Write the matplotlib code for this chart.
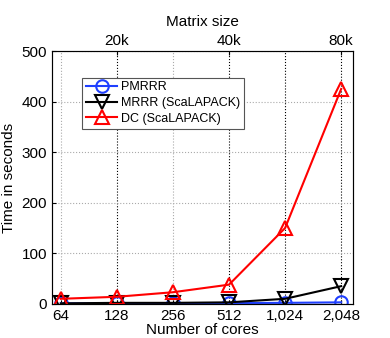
import numpy as np
import matplotlib
matplotlib.use('Agg')
import matplotlib.pyplot as plt

cores = ['64', '128', '256', '512', '1,024', '2,048']
sizes = ['20k', '40k', '80k']
size_pos = [1, 3, 5]
pmrrr = [1, 1, 1, 1.5, 2, 3]
mrrr = [1, 2, 2, 3, 10, 35]
dc = [10, 14, 23, 38, 150, 425]

plt.rcParams['font.family'] = ['Liberation Sans', 'DejaVu Sans']
fig = plt.figure(figsize=(3.9, 3.38), dpi=100)
ax = fig.add_axes([0.133, 0.101, 0.772, 0.748])
x = np.arange(len(cores))

ax.plot(x, pmrrr, '-o', color='#1f3fff', mfc='none', ms=9, mew=1.5, lw=1.5, label='PMRRR')
ax.plot(x, mrrr, '-v', color='black', mfc='none', ms=10, mew=1.5, lw=1.5, label='MRRR (ScaLAPACK)')
ax.plot(x, dc, '-^', color='red', mfc='none', ms=10, mew=1.5, lw=1.5, label='DC (ScaLAPACK)')

ax.set_xlim(-0.16, 5.21)
ax.set_ylim(0, 500)
ax.set_xticks(x)
ax.set_xticklabels(cores)
ax.set_yticks([0, 100, 200, 300, 400, 500])
ax.yaxis.grid(True, ls=':', color='#aaaaaa', lw=0.8)
for i in x:
    c = 'black' if i in (1, 3, 4, 5) else '#aaaaaa'
    ax.axvline(i, ls=':', color=c, lw=0.8, zorder=0)
ax.tick_params(direction='in', labelsize=11, length=3)
ax.set_xlabel('Number of cores', fontsize=11, labelpad=0)
ax.set_ylabel('Time in seconds', fontsize=11)
for s in ax.spines.values():
    s.set_color('#555555')

ax2 = ax.twiny()
ax2.set_xlim(ax.get_xlim())
ax2.set_xticks(size_pos)
ax2.set_xticklabels(sizes)
ax2.tick_params(direction='in', labelsize=11, length=3, pad=2)
ax2.set_xlabel('Matrix size', fontsize=11, labelpad=6)

leg = ax.legend(loc='upper left', bbox_to_anchor=(0.08, 0.92), fontsize=9,
                fancybox=False, framealpha=1, edgecolor='#555555',
                handlelength=2.5, borderpad=0.3, labelspacing=0.3, handletextpad=0.3)
leg.get_frame().set_linewidth(0.8)

fig.savefig('out.png', dpi=100)
